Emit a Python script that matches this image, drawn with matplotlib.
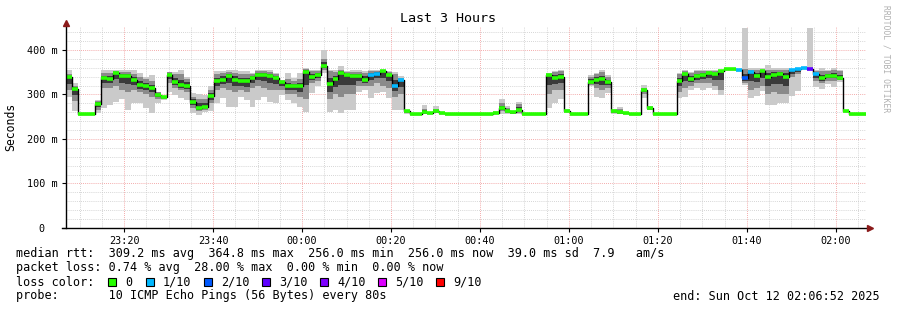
import matplotlib
matplotlib.use("Agg")
import matplotlib.pyplot as plt
from matplotlib.patches import Rectangle
from matplotlib.lines import Line2D
import numpy as np

W, H = 897, 310

# SmokePing: 3 hours, one value per 80 s step, times in seconds from 00:00
t_start = -3188
step = 80

median = [339, 312, 256, 256, 256, 279, 336, 335, 348, 341,
          341, 333, 321, 318, 314, 298, 295, 343, 329, 321,
          320, 283, 270, 273, 296, 330, 333, 341, 333, 330,
          330, 337, 344, 344, 341, 337, 328, 318, 318, 318,
          351, 340, 344, 364, 323, 334, 349, 344, 341, 341,
          333, 344, 347, 352, 344, 319, 332, 264, 256, 256,
          261, 258, 264, 259, 256, 256, 256, 256, 256, 256,
          257, 256, 259, 269, 264, 260, 266, 256, 256, 256,
          256, 344, 336, 340, 264, 256, 256, 256, 329, 333,
          334, 327, 263, 260, 258, 256, 256, 309, 269, 256,
          256, 256, 256, 331, 345, 334, 341, 344, 348, 345,
          353, 357, 357, 356, 336, 351, 342, 353, 339, 343,
          347, 340, 354, 357, 360, 358, 346, 337, 342, 342,
          337, 264, 256, 256, 256]

loss = [0, 0, 0, 0, 0, 0, 0, 0, 0, 0,
        0, 0, 0, 0, 0, 0, 0, 0, 0, 0,
        0, 0, 0, 0, 0, 0, 0, 0, 0, 0,
        0, 0, 0, 0, 0, 0, 0, 0, 0, 0,
        0, 0, 0, 0, 0, 0, 0, 0, 0, 0,
        0, 1, 1, 0, 0, 1, 1, 0, 0, 0,
        0, 0, 0, 0, 0, 0, 0, 0, 0, 0,
        0, 0, 0, 0, 0, 0, 0, 0, 0, 0,
        0, 0, 0, 0, 0, 0, 0, 0, 0, 0,
        0, 0, 0, 0, 0, 0, 0, 0, 0, 0,
        0, 0, 0, 0, 0, 0, 0, 0, 0, 0,
        0, 0, 0, 1, 2, 1, 0, 0, 0, 0,
        0, 0, 1, 1, 1, 3, 1, 0, 0, 0,
        0, 0, 0, 0, 0]

smoke_lo = [295, 264, 256, 256, 256, 258, 269, 276, 283, 290,
            265, 280, 281, 270, 258, 281, 288, 306, 298, 291,
            288, 258, 254, 261, 262, 281, 292, 273, 273, 295,
            288, 273, 288, 295, 283, 281, 299, 288, 281, 273,
            261, 303, 318, 348, 261, 265, 258, 265, 265, 306,
            310, 291, 303, 306, 291, 265, 265, 256, 256, 256,
            256, 256, 258, 256, 256, 256, 256, 256, 256, 256,
            256, 256, 256, 256, 256, 256, 256, 256, 256, 256,
            256, 269, 280, 289, 260, 256, 256, 256, 319, 295,
            292, 303, 256, 256, 256, 256, 256, 292, 265, 256,
            256, 256, 256, 291, 294, 310, 315, 310, 315, 310,
            298, 355, 356, 355, 321, 292, 297, 308, 276, 276,
            280, 280, 297, 308, 358, 358, 317, 313, 324, 317,
            328, 262, 256, 256, 256]

smoke_hi = [354, 325, 256, 256, 256, 288, 355, 355, 355, 355,
            355, 355, 348, 339, 344, 306, 296, 351, 351, 355,
            340, 303, 300, 299, 320, 352, 352, 354, 354, 352,
            352, 348, 354, 354, 354, 348, 333, 348, 336, 348,
            359, 355, 355, 400, 355, 355, 364, 352, 355, 355,
            352, 355, 355, 355, 352, 351, 341, 266, 256, 256,
            276, 258, 274, 259, 256, 256, 256, 256, 256, 256,
            258, 256, 262, 289, 274, 262, 284, 256, 256, 256,
            256, 348, 353, 355, 268, 256, 256, 256, 344, 348,
            355, 344, 268, 272, 260, 256, 256, 321, 274, 256,
            256, 256, 256, 348, 355, 351, 355, 355, 355, 355,
            355, 358, 358, 358, 449, 359, 359, 359, 366, 359,
            359, 359, 354, 357, 361, 449, 354, 359, 354, 359,
            354, 266, 256, 256, 256]

core_lo = [310, 285, 256, 256, 256, 265, 315, 315, 320, 310,
           305, 310, 305, 300, 295, 290, 290, 325, 315, 310,
           305, 270, 262, 266, 280, 310, 315, 310, 305, 310,
           305, 315, 320, 315, 310, 310, 310, 300, 300, 295,
           290, 325, 330, 355, 290, 300, 295, 300, 300, 320,
           320, 320, 325, 320, 315, 295, 300, 258, 256, 256,
           256, 256, 258, 256, 256, 256, 256, 256, 256, 256,
           256, 256, 256, 262, 258, 256, 258, 256, 256, 256,
           256, 300, 310, 310, 262, 256, 256, 256, 322, 315,
           310, 315, 258, 257, 256, 256, 256, 300, 266, 256,
           256, 256, 256, 305, 315, 320, 325, 325, 325, 320,
           310, 356, 356, 356, 325, 310, 315, 320, 300, 305,
           300, 300, 340, 345, 359, 357, 330, 325, 330, 330,
           333, 263, 256, 256, 256]

core_hi = [345, 320, 256, 256, 256, 285, 348, 348, 352, 350,
           350, 345, 340, 335, 330, 305, 296, 350, 345, 345,
           335, 295, 290, 290, 310, 345, 348, 350, 348, 345,
           345, 345, 352, 352, 350, 345, 330, 335, 330, 335,
           357, 352, 352, 380, 352, 350, 355, 350, 350, 350,
           348, 352, 352, 355, 350, 345, 338, 265, 256, 256,
           268, 258, 268, 259, 256, 256, 256, 256, 256, 256,
           257, 256, 260, 280, 270, 261, 278, 256, 256, 256,
           256, 346, 350, 352, 266, 256, 256, 256, 340, 345,
           350, 340, 266, 268, 259, 256, 256, 315, 272, 256,
           256, 256, 256, 345, 352, 348, 352, 352, 352, 352,
           355, 358, 358, 358, 357, 356, 356, 356, 356, 356,
           356, 356, 356, 358, 361, 360, 352, 352, 352, 355,
           352, 266, 256, 256, 256]

loss_labels = ["0", "1/10", "2/10", "3/10", "4/10", "5/10", "9/10"]
loss_colors = ["#26ff00", "#00b8ff", "#0059ff", "#5e00ff", "#7e00ff", "#dd00ff", "#ff0000"]

tick_pos = [-2400, -1200, 0, 1200, 2400, 3600, 4800, 6000, 7200]
tick_lab = ["23:20", "23:40", "00:00", "00:20", "00:40", "01:00", "01:20", "01:40", "02:00"]

mono = "DejaVu Sans Mono"
plt.rcParams["font.family"] = mono

fig = plt.figure(figsize=(W / 100, H / 100), dpi=100)
fig.patch.set_facecolor("white")


def px(x, y):
    return x / W, 1 - y / H


x0, x1, ytop, ybot = 65.7, 866.3, 25.5, 228
ax = fig.add_axes([x0 / W, 1 - ybot / H, (x1 - x0) / W, (ybot - ytop) / H])
ax.set_xlim(t_start, t_start + step * len(median))
ax.set_ylim(0, 455)
for s in ax.spines.values():
    s.set_visible(False)

# grid: minor every 20 ms / 5 min, major every 100 ms / 20 min
for v in range(20, 455, 20):
    major = v % 100 == 0
    ax.axhline(v, color="#f09090" if major else "#c8c8c8", lw=0.6,
               ls=(0, (1, 1.5)), zorder=0)
for v in range(-3000, 7612, 300):
    major = v % 1200 == 0
    ax.axvline(v, color="#f09090" if major else "#c8c8c8", lw=0.6,
               ls=(0, (1, 1.5)), zorder=0)

left = t_start + step * np.arange(len(median))
lo = np.array(smoke_lo)
hi = np.array(smoke_hi)
clo = np.array(core_lo)
chi = np.array(core_hi)
med = np.array(median)

# smoke layers
ax.bar(left, hi - lo, bottom=lo, width=step, align="edge",
       color="#cacaca", lw=0, zorder=1)
ax.bar(left, chi - clo, bottom=clo, width=step, align="edge",
       color="#8a8a8a", lw=0, zorder=2)
inner_lo = np.minimum(med, (clo + med) / 2)
inner_hi = np.maximum(med, (chi + med) / 2)
ax.bar(left, inner_hi - inner_lo, bottom=inner_lo, width=step, align="edge",
       color="#3a3a3a", lw=0, zorder=3)

# median line coloured by loss
edges = np.append(left, left[-1] + step)
ax.step(edges, np.append(med, med[-1]), where="post", color="black",
        lw=1.0, zorder=4)
ax.hlines(med, left, left + step, colors=[loss_colors[l] for l in loss],
          lw=2.6, zorder=5)

ax.set_xticks(tick_pos)
ax.set_xticklabels(tick_lab, fontsize=7.3)
ax.set_yticks([0, 100, 200, 300, 400])
ax.set_yticklabels(["0  ", "100 m", "200 m", "300 m", "400 m"], fontsize=7.3)
ax.tick_params(length=3, width=0.8, color="black", pad=3)

fig.text(*px(11, 127), "Seconds", rotation=90, ha="center", va="center",
         fontsize=8.3)

# axes with arrows
fig.add_artist(Line2D(*zip(px(66, 228), px(66, 24)), color="black", lw=1))
fig.add_artist(Line2D(*zip(px(62, 228), px(868, 228)), color="black", lw=1))
arrow_kw = dict(color="#8b1a1a", ms=4, ls="", transform=fig.transFigure)
fig.add_artist(Line2D([px(66, 23)[0]], [px(66, 23)[1]], marker="^", **arrow_kw))
fig.add_artist(Line2D([px(870, 228)[0]], [px(870, 228)[1]], marker=">", **arrow_kw))

fig.text(*px(448, 19), "Last 3 Hours", ha="center", va="center", fontsize=9.6)
fig.text(*px(886, 5), "RRDTOOL / TOBI OETIKER", rotation=270, ha="center",
         va="top", fontsize=5.8, color="#b0b0b0")

fs = 8.5
fig.text(*px(16, 254), "median rtt:  309.2 ms avg  364.8 ms max  256.0 ms min  "
         "256.0 ms now  39.0 ms sd  7.9   am/s", va="center", fontsize=fs)
fig.text(*px(16, 268), "packet loss: 0.74 % avg  28.00 % max  0.00 % min  0.00 % now",
         va="center", fontsize=fs)
fig.text(*px(16, 282), "loss color:", va="center", fontsize=fs)
box_x = [108, 146, 204, 262, 320, 378, 436]
for bx, lab, col in zip(box_x, loss_labels, loss_colors):
    fig.add_artist(Rectangle(px(bx, 286), 8 / W, 8 / H, facecolor=col,
                             edgecolor="black", lw=0.8, transform=fig.transFigure))
    fig.text(*px(bx + 17, 282), lab, va="center", fontsize=fs)
fig.text(*px(16, 296), "probe:       10 ICMP Echo Pings (56 Bytes) every 80s",
         va="center", fontsize=fs)
fig.text(*px(880, 296), "end: Sun Oct 12 02:06:52 2025", ha="right", va="center",
         fontsize=fs)

fig.savefig("out.png", dpi=100, facecolor="white")
